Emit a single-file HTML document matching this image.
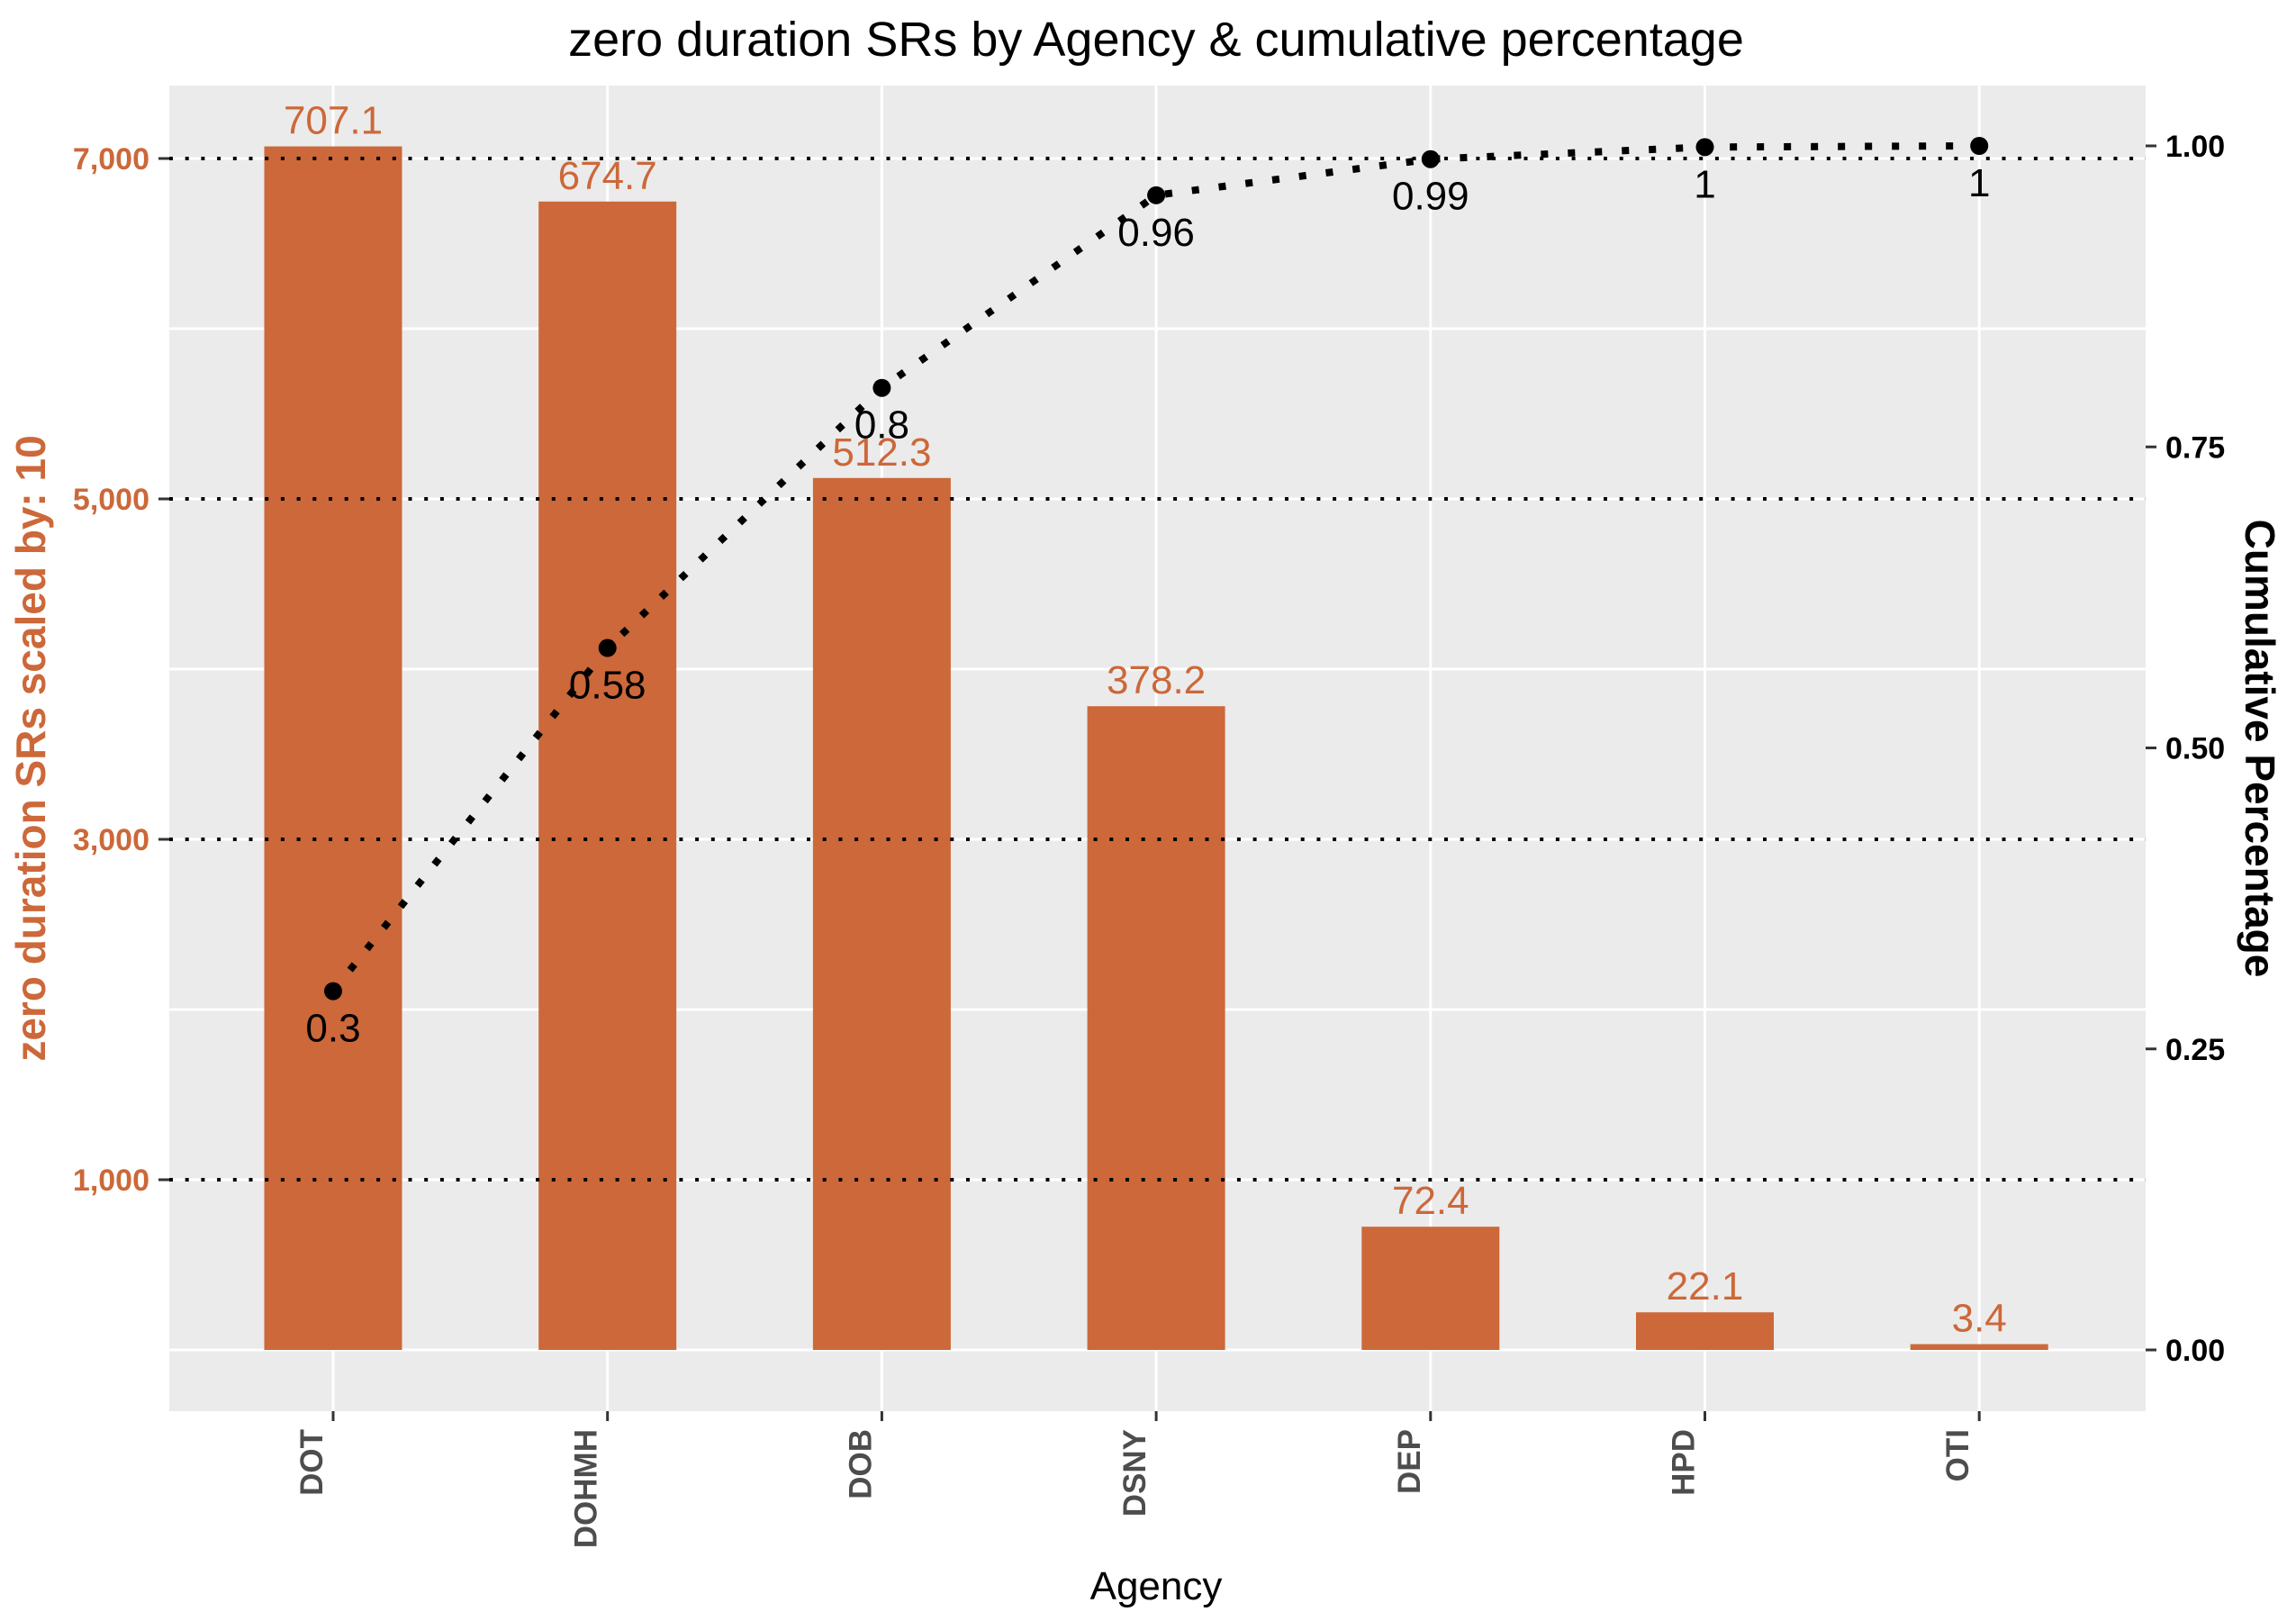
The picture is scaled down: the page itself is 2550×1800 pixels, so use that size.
<!DOCTYPE html>
<html><head><meta charset="utf-8"><style>
body{margin:0;background:#fff}
svg{display:block;font-family:"Liberation Sans",sans-serif}
</style></head><body>
<svg id="chart" width="2550" height="1800" viewBox="0 0 2550 1800" xmlns="http://www.w3.org/2000/svg">
<rect x="0" y="0" width="2550" height="1800" fill="#fff"/>
<rect x="188" y="95" width="2195" height="1472" fill="#ebebeb"/>
<g id="grid"></g><g id="bars"></g><g id="dotted"></g><g id="line"></g><g id="axes"></g>
<text x="1284" y="62" text-anchor="middle" font-size="54" fill="#000">zero duration SRs by Agency &amp; cumulative percentage</text>
<text transform="translate(50,831) rotate(-90)" text-anchor="middle" font-size="46" font-weight="bold" fill="#cc6839">zero duration SRs scaled by: 10</text>
<text transform="translate(2494,831) rotate(90)" text-anchor="middle" font-size="46" font-weight="bold" fill="#000">Cumulative Percentage</text>
<text x="1284" y="1776" text-anchor="middle" font-size="44" fill="#000">Agency</text>
</svg>
<script>
const categories = ["DOT","DOHMH","DOB","DSNY","DEP","HPD","OTI"];
const barValues = [707.1, 674.7, 512.3, 378.2, 72.4, 22.1, 3.4];
const cumValues = [0.298, 0.583, 0.799, 0.959, 0.989, 0.999, 1.0];
const cumLabels = ["0.3","0.58","0.8","0.96","0.99","1","1"];
const leftTicks = [1000, 3000, 5000, 7000];
const leftTickLabels = ["1,000","3,000","5,000","7,000"];
const whiteGrid = [0, 2000, 4000, 6000];
const rightTicks = [0, 0.25, 0.5, 0.75, 1.0];
const rightTickLabels = ["0.00","0.25","0.50","0.75","1.00"];
const scaleFactor = 10;

const NS = "http://www.w3.org/2000/svg";
const PL = 188, PR = 2383, PT = 95, PB = 1567;
const yL = v => 1499 - v * (1323 / 7000);
const yR = v => 1499 - v * 1337;
const xC = i => 370 + i * 304.7;
const BW = 153;
const ORANGE = "#cc6839";
function mk(tag, attrs, parent) {
  const e = document.createElementNS(NS, tag);
  for (const k in attrs) e.setAttribute(k, attrs[k]);
  parent.appendChild(e);
  return e;
}
const grid = document.getElementById('grid');
const bars = document.getElementById('bars');
const dotted = document.getElementById('dotted');
const line = document.getElementById('line');
const axes = document.getElementById('axes');

whiteGrid.concat(leftTicks).forEach(v => {
  const l = mk('line', {x1: PL, x2: PR, y1: yL(v), y2: yL(v), stroke: '#fff', 'stroke-width': 3}, grid);
  
  
});
categories.forEach((c, i) => {
  const l = mk('line', {x1: xC(i), x2: xC(i), y1: PT, y2: PB, stroke: '#fff', 'stroke-width': 3}, grid);
  
  
});
categories.forEach((c, i) => {
  const v = barValues[i] * scaleFactor;
  const r = mk('rect', {x: xC(i) - BW / 2, y: yL(v), width: BW, height: yL(0) - yL(v), fill: ORANGE}, bars);
  
  
  const t = mk('text', {x: xC(i), y: yL(v) - 14, 'text-anchor': 'middle', 'font-size': 44, fill: ORANGE}, bars);
  t.textContent = barValues[i].toFixed(1);
  
  
});
leftTicks.forEach((v, i) => {
  const l = mk('line', {x1: PL, x2: PR, y1: yL(v), y2: yL(v), stroke: '#000', 'stroke-width': 4, 'stroke-dasharray': '4 13.7'}, dotted);
  
  
  const tk = mk('line', {x1: PL - 12, x2: PL, y1: yL(v), y2: yL(v), stroke: '#333', 'stroke-width': 3}, axes);
  
  
  const t = mk('text', {x: 166, y: yL(v) + 12, 'text-anchor': 'end', 'font-size': 34, 'font-weight': 'bold', fill: ORANGE}, axes);
  t.textContent = leftTickLabels[i];
  
  
});
rightTicks.forEach((v, i) => {
  const tk = mk('line', {x1: PR, x2: PR + 12, y1: yR(v), y2: yR(v), stroke: '#333', 'stroke-width': 3}, axes);
  
  
  const t = mk('text', {x: 2405, y: yR(v) + 12, 'text-anchor': 'start', 'font-size': 34, 'font-weight': 'bold', fill: '#000'}, axes);
  t.textContent = rightTickLabels[i];
  
  
});
categories.forEach((c, i) => {
  const tk = mk('line', {x1: xC(i), x2: xC(i), y1: PB, y2: PB + 11, stroke: '#333', 'stroke-width': 3}, axes);
  
  
  const t = mk('text', {transform: 'translate(' + (xC(i) - 12) + ',1587) rotate(-90)', 'text-anchor': 'end', 'font-size': 35, 'font-weight': 'bold', fill: '#4d4d4d'}, axes);
  t.textContent = c;
  
  
});
const pts = cumValues.map((v, i) => xC(i) + ',' + yR(v)).join(' ');
const pl = mk('polyline', {points: pts, fill: 'none', stroke: '#000', 'stroke-width': 8, 'stroke-dasharray': '8 22'}, line);


cumValues.forEach((v, i) => {
  const c = mk('circle', {cx: xC(i), cy: yR(v), r: 10, fill: '#000'}, line);
  
  
  const t = mk('text', {x: xC(i), y: yR(v) + 56, 'text-anchor': 'middle', 'font-size': 44, fill: '#000'}, line);
  t.textContent = cumLabels[i];
  
  
});
</script>
</body></html>
